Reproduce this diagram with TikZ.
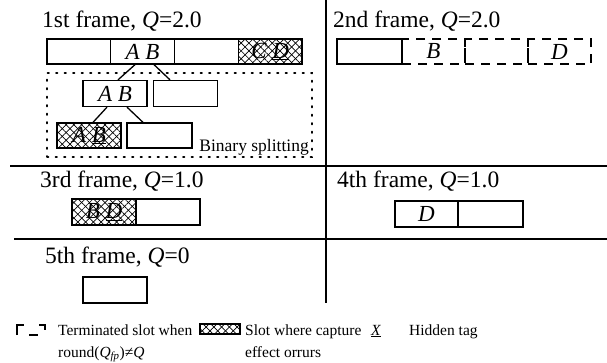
\documentclass[tikz,border=0pt]{standalone}
\usepackage{fontspec}
\setmainfont{Liberation Serif}
\usetikzlibrary{patterns.meta}
\tikzset{
  x=1pt, y=-1pt,
  title/.style={anchor=base west, inner sep=0pt, font=\fontsize{23.5}{27}\selectfont},
  slot/.style={draw, line width=1.3pt, minimum width=63.75pt, minimum height=25pt, inner sep=0pt, font=\fontsize{23}{27}\selectfont\itshape},
  hatched/.style={slot, postaction={pattern={Lines[angle=45,distance=5.5pt,line width=0.7pt]}}, postaction={pattern={Lines[angle=-45,distance=5.5pt,line width=0.7pt]}}},
  dslot/.style={slot, dash pattern=on 9pt off 7pt, line width=1.8pt},
  divider/.style={line width=1.7pt},
  branch/.style={line width=1.3pt},
  legend/.style={anchor=base west, inner sep=0pt, font=\fontsize{15.5}{18}\selectfont},
}
\begin{document}
\begin{tikzpicture}
\useasboundingbox (0,0) rectangle (607,362);
% dividers
\coordinate (vt) at (326,0);
\coordinate (vb) at (326,303);
\coordinate (h1l) at (10,166);
\coordinate (h1r) at (607,166);
\coordinate (h2l) at (14,239);
\coordinate (h2r) at (607,239);
\draw[divider] (vt) -- (vb);
\draw[divider] (h1l) -- (h1r);
\draw[divider] (h2l) -- (h2r);

% frame 1
\node[title] (t1) at (42,27) {1st frame, \textit{Q}=2.0};
\node[slot] (a1) at (78.9,51.5) {};
\node[slot] (a2) at (142.6,51.5) {A B};
\node[slot] (a3) at (206.4,51.5) {};
\node[hatched] (a4) at (270.1,51.5) {C \underline{D}};
\node[draw, dash pattern=on 1.5pt off 7pt, line width=1.6pt, line cap=round, minimum width=265pt, minimum height=84pt, inner sep=0pt] (split) at (179.5,115) {};
\node[slot, minimum width=64pt, minimum height=26pt] (b1) at (115,93.5) {A B};
\node[slot, minimum width=64pt, minimum height=26pt] (b2) at (185.5,93.5) {};
\node[hatched] (c1) at (89,135.5) {A \underline{B}};
\node[slot, minimum width=65pt] (c2) at (159.5,135.5) {};
\draw[branch] ([xshift=-7.6pt]a2.south) -- ([xshift=3pt]b1.north);
\draw[branch] ([xshift=11.4pt]a2.south) -- ([xshift=-15.5pt]b2.north);
\draw[branch] ([xshift=-8pt]b1.south) -- ([xshift=4pt]c1.north);
\draw[branch] ([xshift=12pt]b1.south) -- ([xshift=-16.5pt]c2.north);
\node[anchor=base east, inner sep=0pt, font=\fontsize{17.5}{20}\selectfont] (bs) at (309,151) {Binary splitting};

% frame 2
\node[title] (t2) at (333,27) {2nd frame, \textit{Q}=2.0};
\node[slot, minimum width=65pt] (d1) at (369.5,51.5) {};
\node[dslot, minimum width=63pt] (d2) at (433.5,51.5) {B};
\node[dslot, minimum width=63pt] (d3) at (496.5,51.5) {};
\node[dslot, minimum width=63pt] (d4) at (559.5,51.5) {D};

% frame 3
\node[title] (t3) at (40,187) {3rd frame, \textit{Q}=1.0};
\node[hatched, minimum width=64pt, minimum height=26pt] (e1) at (104,212) {B \underline{D}};
\node[slot, minimum width=64pt, minimum height=26pt] (e2) at (168,212) {};

% frame 4
\node[title] (t4) at (337,187) {4th frame, \textit{Q}=1.0};
\node[slot, minimum width=63pt, minimum height=26pt] (f1) at (426.5,214) {D};
\node[slot, minimum width=65pt, minimum height=26pt] (f2) at (490.5,214) {};

% frame 5
\node[title] (t5) at (45,263) {5th frame, \textit{Q}=0};
\node[slot, minimum width=64pt, minimum height=26pt] (g1) at (115,290) {};

% legend
\draw[line width=1.8pt] (17,335) -- (17,325) -- (24,325);
\draw[line width=1.8pt] (29,335) -- (38,335);
\draw[line width=1.8pt] (39,325) -- (45,325) -- (45,330);
\node[legend] (l1) at (58,335) {Terminated slot when};
\node[legend] (l1b) at (58,357) {round(\textit{Q}\textsubscript{\textit{fp}})≠\textit{Q}};
\node[hatched, minimum width=40pt, minimum height=10pt] (lh) at (220,329) {};
\node[legend] (l2) at (245,335) {Slot where capture};
\node[legend] (l2b) at (245,357) {effect orrurs};
\node[legend] (lx) at (371,335) {\underline{\textit{X}}};
\node[legend] (l3) at (409,335) {Hidden tag};
\end{tikzpicture}
\end{document}
